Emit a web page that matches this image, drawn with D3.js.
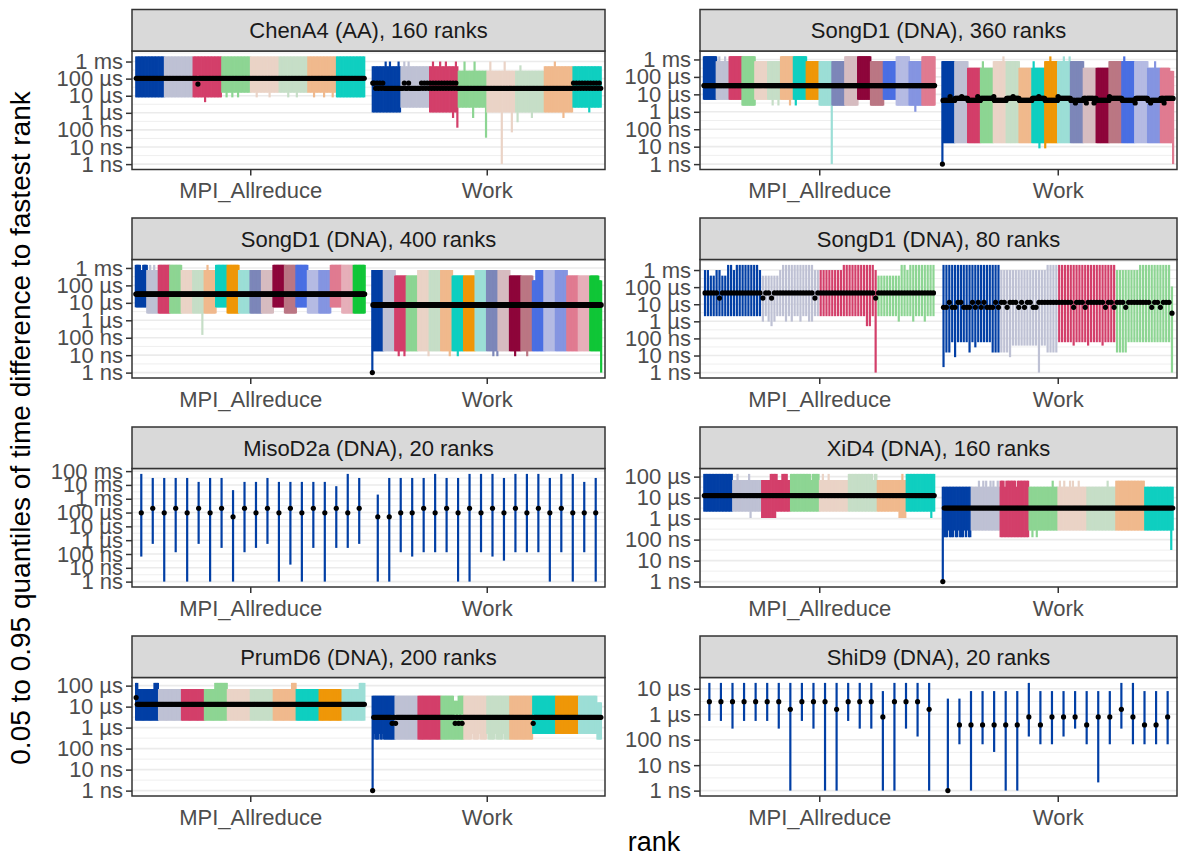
<!DOCTYPE html>
<html>
<head>
<meta charset="utf-8">
<script src="https://d3js.org/d3.v7.min.js"></script>
<style>
  body { margin: 0; background: #fff; font-family: "Liberation Sans", Arial, Helvetica, sans-serif; }
  svg { display: block; }
</style>
</head>
<body>
<script>
const width = 1182, height = 860;

const kinds = ["MPI_Allreduce", "Work"];
const perNode = 20;
const nodeColors = ["#023fa5", "#bec1d4", "#d33f6a", "#8dd593", "#ead3c6", "#c6dec7", "#f0b98d",
  "#0fcfc0", "#ef9708", "#9cded6", "#7d87b9", "#d6bcc0", "#8e063b", "#bb7784", "#4a6fe3",
  "#b5bbe3", "#8595e1", "#e07b91", "#e6afb9", "#11c638"];

// rows are [q0.95, q0.05, median] in ns, one row per node (20 ranks) or per rank;
// overrides are [field, value, ranks]
const chenMpi = [[2e6, 8e3, 1.05e5], [2e6, 8e3, 1.05e5], [2e6, 8e3, 1.05e5], [2e6, 1.5e4, 1.05e5],
  [2e6, 1.5e4, 1.05e5], [2e6, 1.5e4, 1.05e5], [2e6, 1.5e4, 1.05e5], [2e6, 8e3, 1.05e5]];
const chenMpiOv = [["med", 4.8e4, [43]], ["lo", 4.2e3, [48]],
  ["lo", 8e3, [63, 67, 71, 84, 93, 106, 112, 124, 131, 137]]];
const chenWork = [[5.3e5, 1.05e3, 2.7e4], [5.3e5, 2e3, 2.7e4], [5.3e5, 1.05e3, 2.7e4], [2.9e5, 2e3, 2.7e4],
  [2.9e5, 1.05e3, 2.7e4], [2.9e5, 1.05e3, 2.7e4], [5.3e5, 1.05e3, 2.7e4], [5.3e5, 2e3, 2.7e4]];
const chenWorkOv = [["hi", 1e6, [9, 12, 18, 22, 25, 42, 47, 51, 58, 64, 71, 82, 92, 127]], ["hi", 6e5, [103]],
  ["lo", 5e2, [56, 70, 111, 133]], ["lo", 1.35e2, [59]], ["lo", 35, [79]], ["lo", 1, [90]], ["lo", 72, [97]],
  ["lo", 2.8e2, [101]], ["lo", 1.05e3, [151]],
  ["med", 5.5e4, [0, 1, 3, 5, 7, 22, 25, 34, 36, 38, 40, 42, 44, 46, 48, 50, 52, 54, 56, 58,
    140, 142, 144, 146, 148, 150, 152, 154, 156, 158]]];

const song360Mpi = [[1.5e6, 5e3, 3.2e4], [7.9e5, 5e3, 3.2e4], [1.5e6, 5e3, 3.2e4], [1.5e6, 2.3e3, 3.2e4],
  [7.9e5, 5e3, 3.2e4], [7.9e5, 5e3, 3.2e4], [1.5e6, 5e3, 3.2e4], [1.5e6, 5e3, 3.2e4], [7.9e5, 5e3, 3.2e4],
  [7.9e5, 2.3e3, 3.2e4], [7.9e5, 2.3e3, 3.2e4], [1.5e6, 2.3e3, 3.2e4], [1.5e6, 5e3, 3.2e4], [7.9e5, 2.3e3, 3.2e4],
  [7.9e5, 5e3, 3.2e4], [1.5e6, 2.3e3, 3.2e4], [7.9e5, 2.3e3, 3.2e4], [1.5e6, 2.3e3, 3.2e4]];
const song360MpiOv = [["lo", 1, [199]], ["lo", 1e3, [329]], ["lo", 2.3e3, [107, 116, 134, 143]],
  ["hi", 1.5e6, [24, 33]]];
const song360Work = [[7.9e5, 16, 4.5e3], [7.9e5, 16, 5.8e3], [3.3e5, 16, 4.5e3], [3.3e5, 16, 5.8e3],
  [7.9e5, 16, 4.5e3], [7.9e5, 16, 5.8e3], [3.3e5, 16, 4.5e3], [3.3e5, 16, 5.8e3], [7.9e5, 16, 4.5e3],
  [7.9e5, 16, 5.8e3], [7.9e5, 16, 4.5e3], [3.3e5, 16, 5.8e3], [3.3e5, 16, 4.5e3], [7.9e5, 16, 5.8e3],
  [7.9e5, 16, 4.5e3], [7.9e5, 16, 5.8e3], [3.3e5, 16, 4.5e3], [3.3e5, 16, 5.8e3]];
const song360WorkOv = [["hi", 1.5e6, [95, 168, 189, 198, 283]], ["hi", 7.9e5, [63, 142, 331]],
  ["hi", 2.2e5, [354, 355, 356, 357, 358, 359]], ["lo", 8, [151, 160]], ["lo", 1, [0, 359]], ["med", 1, [0]],
  ["med", 3.2e3, [207, 224, 236, 300, 324, 345]], ["med", 7.5e3, [12, 30, 55, 80, 110, 150, 180, 260]]];

const song400Mpi = [[1.5e6, 5.6e3, 3.2e4], [7.6e5, 2.5e3, 3.2e4], [1.5e6, 2.5e3, 3.2e4], [1.5e6, 2.5e3, 3.2e4],
  [7.6e5, 2.5e3, 3.2e4], [7.6e5, 2.5e3, 3.2e4], [7.6e5, 2.5e3, 3.2e4], [1.5e6, 5.6e3, 3.2e4], [1.5e6, 2.5e3, 3.2e4],
  [7.6e5, 2.5e3, 3.2e4], [7.6e5, 2.5e3, 3.2e4], [7.6e5, 2.5e3, 3.2e4], [1.5e6, 5.6e3, 3.2e4], [1.5e6, 2.5e3, 3.2e4],
  [1.5e6, 5.6e3, 3.2e4], [7.6e5, 2.5e3, 3.2e4], [7.6e5, 2.5e3, 3.2e4], [1.5e6, 5.6e3, 3.2e4], [1.5e6, 2.5e3, 3.2e4],
  [1.5e6, 2.5e3, 3.2e4]];
const song400MpiOv = [["hi", 7.6e5, [8, 9, 10, 11, 12]], ["hi", 1.5e6, [25, 32, 125]], ["lo", 1.45e2, [116]]];
const song400Work = [[7.6e5, 17, 7.6e3], [7.6e5, 17, 7.6e3], [3.6e5, 17, 7.6e3], [3.6e5, 17, 7.6e3],
  [7.6e5, 17, 7.6e3], [7.6e5, 17, 7.6e3], [7.6e5, 17, 7.6e3], [3.6e5, 17, 7.6e3], [3.6e5, 17, 7.6e3],
  [7.6e5, 17, 7.6e3], [7.6e5, 17, 7.6e3], [7.6e5, 17, 7.6e3], [3.6e5, 17, 7.6e3], [3.6e5, 17, 7.6e3],
  [7.6e5, 17, 7.6e3], [7.6e5, 17, 7.6e3], [7.6e5, 17, 7.6e3], [3.6e5, 17, 7.6e3], [3.6e5, 17, 7.6e3],
  [3.6e5, 17, 7.6e3]];
const song400WorkOv = [["hi", 1.9e5, [280, 281, 282, 283, 284, 285, 395, 396, 397, 398, 399]],
  ["lo", 8.7, [46, 56, 98, 135, 149, 211, 218, 249, 270]], ["lo", 1, [0, 399]], ["med", 1, [0]]];

const song80Mpi = [[2e6, 2e3, 4.6e4], [2e6, 2e3, 4.6e4], [2e6, 2e3, 4.6e4], [2e6, 2e3, 4.6e4]];
const song80MpiOv = [["hi", 1e6, [0, 1, 4, 5, 10, 19, 26, 38, 39, 40, 41, 42, 43, 44, 45, 46, 47, 59, 70]],
  ["hi", 4.7e5, [2, 3, 6, 7, 20, 21, 22, 23, 24, 25, 60, 61, 62, 63, 64, 65, 66, 67]],
  ["lo", 960, [20, 22, 24, 28, 30, 33, 36, 37, 67, 72, 76]], ["lo", 520, [23, 56, 57]], ["lo", 1, [59]],
  ["med", 2.3e4, [5, 20, 23, 38, 59]]];
const song80Work = [[2e6, 60, 6.6e3], [1e6, 38, 1.3e4], [2e6, 60, 1.3e4], [2e6, 60, 1.3e4]];
const song80WorkOv = [["hi", 2e6, [36, 37, 38, 39]], ["hi", 1e6, [60, 61, 62, 63, 64, 65, 66, 67]],
  ["hi", 1.1e5, [79]], ["lo", 2.1, [0]],
  ["lo", 15, [1, 2, 9, 17, 18, 19, 20, 21, 22, 36, 37, 38, 39, 60, 61, 62, 63]], ["lo", 8, [4, 23]],
  ["lo", 30, [11]], ["lo", 1, [33, 79]], ["lo", 38, [45, 50, 55]],
  ["med", 1.3e4, [2, 5, 6, 10, 12, 14, 18]],
  ["med", 6.6e3, [22, 26, 28, 31, 32, 45, 49, 56, 59, 63, 72, 75]], ["med", 3e3, [79]]];

const misoMpi = [[6.3e7, 65, 9.5e4], [3.2e7, 540, 2.05e5], [3.2e7, 1, 9.5e4], [3.2e7, 134, 2.05e5],
  [3.2e7, 1, 9.5e4], [1.66e7, 540, 2.05e5], [3.2e7, 1, 9.5e4], [3.2e7, 276, 2.05e5], [4.2e6, 1, 4.9e4],
  [1.66e7, 134, 2.05e5], [1.66e7, 276, 9.5e4], [3.2e7, 540, 2.05e5], [1.66e7, 1, 9.5e4], [1.66e7, 17, 2.05e5],
  [1.66e7, 1, 9.5e4], [1.66e7, 276, 2.05e5], [1.66e7, 1, 9.5e4], [8.1e6, 276, 2.05e5], [6.3e7, 276, 9.5e4],
  [3.2e7, 540, 2.05e5]];
const misoWork = [[2e6, 1, 4.9e4], [3.2e7, 1, 4.9e4], [3.2e7, 134, 9.5e4], [3.2e7, 65, 9.5e4],
  [3.2e7, 134, 2.05e5], [6.3e7, 134, 9.5e4], [3.2e7, 134, 2.05e5], [3.2e7, 1, 9.5e4], [6.3e7, 1, 2.05e5],
  [6.3e7, 134, 9.5e4], [6.3e7, 65, 2.05e5], [3.2e7, 33, 9.5e4], [6.3e7, 134, 2.05e5], [6.3e7, 134, 9.5e4],
  [6.3e7, 134, 2.05e5], [3.2e7, 1, 9.5e4], [6.3e7, 134, 2.05e5], [6.3e7, 1, 9.5e4], [1.66e7, 134, 9.5e4],
  [3.2e7, 1, 9.5e4]];

const xiMpi = [[1.35e5, 2.15e3, 1.25e4], [6.9e4, 2.15e3, 1.25e4], [6.9e4, 2.15e3, 1.25e4], [1.35e5, 2.15e3, 1.25e4],
  [6.9e4, 2.15e3, 1.25e4], [1.35e5, 2.15e3, 1.25e4], [6.9e4, 2.15e3, 1.25e4], [1.35e5, 2.15e3, 1.25e4]];
const xiMpiOv = [["hi", 1.35e5, [23, 31, 46, 47, 48, 49, 50, 54, 55, 56, 57, 82, 86, 137]], ["hi", 6.9e4, [74, 117]],
  ["lo", 1.07e3, [32, 40, 41, 42, 43, 44, 45, 46, 47, 48, 49, 135, 136, 137, 138, 139, 157]]];
const xiWork = [[3.3e4, 130, 3.2e3], [3.3e4, 270, 3.2e3], [6.4e4, 130, 3.2e3], [3.3e4, 270, 3.2e3],
  [3.3e4, 270, 3.2e3], [3.3e4, 270, 3.2e3], [6.4e4, 270, 3.2e3], [3.3e4, 270, 3.2e3]];
const xiWorkOv = [["hi", 6.4e4, [25, 28, 30, 33, 35, 38, 76, 81, 84, 88, 90, 94, 114]], ["hi", 3.3e4, [43, 51]],
  ["lo", 270, [4, 8, 11, 15, 17]], ["lo", 130, [62, 65]], ["lo", 32, [158]], ["lo", 1, [0]], ["med", 1, [0]]];

const prumMpi = [[6.9e4, 2.15e3, 1.3e4], [6.9e4, 2.15e3, 1.3e4], [6.9e4, 2.15e3, 1.3e4], [6.9e4, 2.15e3, 1.3e4],
  [6.9e4, 2.15e3, 1.3e4], [6.9e4, 2.15e3, 1.3e4], [6.9e4, 2.15e3, 1.3e4], [6.9e4, 2.15e3, 1.3e4],
  [6.9e4, 2.15e3, 1.3e4], [6.9e4, 2.15e3, 1.3e4]];
const prumMpiOv = [["hi", 1.35e5, [0, 1, 16, 17, 18, 19, 69, 70, 71, 72, 73, 74, 75, 76, 77, 78, 79,
  136, 137, 138, 139, 195, 196, 197, 198, 199]], ["med", 2.7e4, [0]]];
const prumWork = [[3.3e4, 270, 3.1e3], [3.3e4, 270, 3.1e3], [3.3e4, 270, 3.1e3], [3.3e4, 270, 3.1e3],
  [3.3e4, 270, 3.1e3], [3.3e4, 270, 3.1e3], [3.3e4, 270, 3.1e3], [3.3e4, 500, 3.1e3], [3.3e4, 500, 3.1e3],
  [3.3e4, 500, 3.1e3]];
const prumWorkOv = [["hi", 1.9e4, [71, 72, 73, 74]], ["hi", 1.6e4, [196, 197, 198, 199]],
  ["lo", 500, [2, 6, 9, 87, 93, 100, 107, 114]], ["lo", 270, [196, 197, 198, 199]], ["lo", 1, [0]],
  ["med", 1, [0]], ["med", 1.6e3, [17, 20, 72, 75, 78, 140]]];

const shiMpi = [[1.7e4, 545, 3.1e3], [1.7e4, 545, 3.1e3], [1.7e4, 272, 3.1e3], [1.7e4, 545, 3.1e3],
  [1.7e4, 545, 3.1e3], [1.7e4, 545, 3.1e3], [1.7e4, 272, 3.1e3], [1.7e4, 1, 1.55e3], [1.7e4, 545, 3.1e3],
  [1.7e4, 272, 3.1e3], [1.7e4, 1, 3.1e3], [1.7e4, 1, 1.55e3], [1.7e4, 545, 3.1e3], [1.7e4, 272, 3.1e3],
  [1.7e4, 272, 3.1e3], [8.1e3, 1, 780], [1.7e4, 1, 3.1e3], [1.7e4, 272, 3.1e3], [1.7e4, 133, 3.1e3],
  [1.7e4, 1, 1.55e3]];
const shiWork = [[4.1e3, 1, 1], [4.1e3, 66, 380], [8.1e3, 1, 380], [8.1e3, 66, 380], [8.1e3, 33, 380],
  [8.1e3, 1, 380], [8.1e3, 1, 380], [1.7e4, 133, 780], [8.1e3, 66, 380], [8.1e3, 66, 780], [8.1e3, 133, 780],
  [8.1e3, 272, 780], [8.1e3, 66, 380], [8.1e3, 2.1, 780], [8.1e3, 66, 780], [1.7e4, 272, 1.55e3],
  [1.7e4, 66, 780], [8.1e3, 66, 380], [8.1e3, 66, 380], [8.1e3, 66, 780]];

const panels = [
  { title: "ChenA4 (AA), 160 ranks", n: 160, series: [[chenMpi, chenMpiOv], [chenWork, chenWorkOv]] },
  { title: "SongD1 (DNA), 360 ranks", n: 360, series: [[song360Mpi, song360MpiOv], [song360Work, song360WorkOv]] },
  { title: "SongD1 (DNA), 400 ranks", n: 400, series: [[song400Mpi, song400MpiOv], [song400Work, song400WorkOv]] },
  { title: "SongD1 (DNA), 80 ranks", n: 80, series: [[song80Mpi, song80MpiOv], [song80Work, song80WorkOv]] },
  { title: "MisoD2a (DNA), 20 ranks", n: 20, series: [[misoMpi, []], [misoWork, []]] },
  { title: "XiD4 (DNA), 160 ranks", n: 160, series: [[xiMpi, xiMpiOv], [xiWork, xiWorkOv]] },
  { title: "PrumD6 (DNA), 200 ranks", n: 200, series: [[prumMpi, prumMpiOv], [prumWork, prumWorkOv]] },
  { title: "ShiD9 (DNA), 20 ranks", n: 20, series: [[shiMpi, []], [shiWork, []]] }
];

// layout
const colX = [[132, 605], [700, 1177]];
const rowY = [9.5, 218, 427, 636];
const stripH = 41.5, panelH = 118.5;
const dodge = 0.97;

const svg = d3.select("body").append("svg").attr("width", width).attr("height", height);

function timeLabel(v) {
  const e = Math.round(Math.log10(v));
  const u = Math.floor(e / 3);
  return `${10 ** (e - 3 * u)} ${["ns", "µs", "ms", "s"][u]}`;
}

function expand(rows, ov, n) {
  const per = rows.length === n ? 1 : n / rows.length;
  const out = d3.range(n).map(i => {
    const r = rows[Math.floor(i / per)];
    return { rank: i, node: Math.floor(i / perNode), hi: r[0], lo: r[1], med: r[2] };
  });
  ov.forEach(([field, value, ranks]) => ranks.forEach(i => { out[i][field] = value; }));
  return out;
}

panels.forEach((p, k) => {
  const col = k % 2, row = Math.floor(k / 2);
  const [x0, x1] = colX[col];
  const top = rowY[row] + stripH, bottom = top + panelH;
  const data = p.series.flatMap(([rows, ov], j) =>
    expand(rows, ov, p.n).map(d => ({ ...d, kind: j + 1 })));

  const lmin = Math.log10(d3.min(data, d => d.lo));
  const lmax = Math.log10(d3.max(data, d => d.hi));
  const pad = (lmax - lmin) * 0.05;
  const y = d3.scaleLog().domain([10 ** (lmin - pad), 10 ** (lmax + pad)]).range([bottom, top]);
  const x = d3.scaleLinear().domain([0.5, 2.5]).range([x0, x1]);
  const xr = d => x(d.kind + ((d.rank + 0.5) / p.n - 0.5) * dodge);

  const g = svg.append("g");
  g.append("rect").attr("x", x0).attr("y", top).attr("width", x1 - x0).attr("height", panelH).attr("fill", "#fff");

  const majors = d3.range(Math.ceil(lmin - pad), Math.floor(lmax + pad) + 1);
  const minors = d3.range(Math.floor(lmin - pad), Math.ceil(lmax + pad) + 1).map(e => e + 0.5)
    .filter(e => e > lmin - pad && e < lmax + pad);
  g.selectAll(".minor").data(minors).join("line")
    .attr("x1", x0).attr("x2", x1)
    .attr("y1", e => y(10 ** e)).attr("y2", e => y(10 ** e))
    .attr("stroke", "#ebebeb").attr("stroke-width", 0.8);
  g.selectAll(".major").data(majors).join("line")
    .attr("x1", x0).attr("x2", x1)
    .attr("y1", e => y(10 ** e)).attr("y2", e => y(10 ** e))
    .attr("stroke", "#ebebeb").attr("stroke-width", 1.6);

  g.append("g").selectAll("line").data(data).join("line")
    .attr("x1", xr).attr("x2", xr)
    .attr("y1", d => y(d.lo)).attr("y2", d => y(d.hi))
    .attr("stroke", d => nodeColors[d.node])
    .attr("stroke-width", 2.2);

  g.append("g").selectAll("circle").data(data).join("circle")
    .attr("cx", xr).attr("cy", d => y(d.med)).attr("r", 2.6)
    .attr("fill", "#000");

  g.append("rect").attr("x", x0).attr("y", top).attr("width", x1 - x0).attr("height", panelH)
    .attr("fill", "none").attr("stroke", "#333").attr("stroke-width", 1.5);

  // strip
  g.append("rect").attr("x", x0).attr("y", rowY[row]).attr("width", x1 - x0).attr("height", stripH)
    .attr("fill", "#d9d9d9").attr("stroke", "#333").attr("stroke-width", 1.5);
  g.append("text").attr("x", (x0 + x1) / 2).attr("y", rowY[row] + stripH / 2)
    .attr("dy", "0.36em").attr("text-anchor", "middle")
    .attr("font-size", 22).attr("fill", "#1a1a1a").text(p.title);

  const yAxis = g.append("g").attr("transform", `translate(${x0},0)`)
    .call(d3.axisLeft(y).tickValues(majors.map(e => 10 ** e)).tickFormat(timeLabel).tickSize(6).tickPadding(3));
  const xAxis = g.append("g").attr("transform", `translate(0,${bottom})`)
    .call(d3.axisBottom(x).tickValues([1, 2]).tickFormat(d => kinds[d - 1]).tickSize(6).tickPadding(7));
  [yAxis, xAxis].forEach(a => {
    a.select(".domain").remove();
    a.selectAll(".tick line").attr("stroke", "#333").attr("stroke-width", 1.5);
    a.selectAll(".tick text").attr("fill", "#4d4d4d").attr("font-size", 22)
      .attr("font-family", "Liberation Sans, Arial, sans-serif");
  });
});

svg.append("text")
  .attr("transform", "translate(30,428) rotate(-90)")
  .attr("text-anchor", "middle").attr("font-size", 28).attr("fill", "#000")
  .text("0.05 to 0.95 quantiles of time difference to fastest rank");
svg.append("text")
  .attr("x", 654).attr("y", 851)
  .attr("text-anchor", "middle").attr("font-size", 27).attr("fill", "#000")
  .text("rank");
</script>
</body>
</html>
